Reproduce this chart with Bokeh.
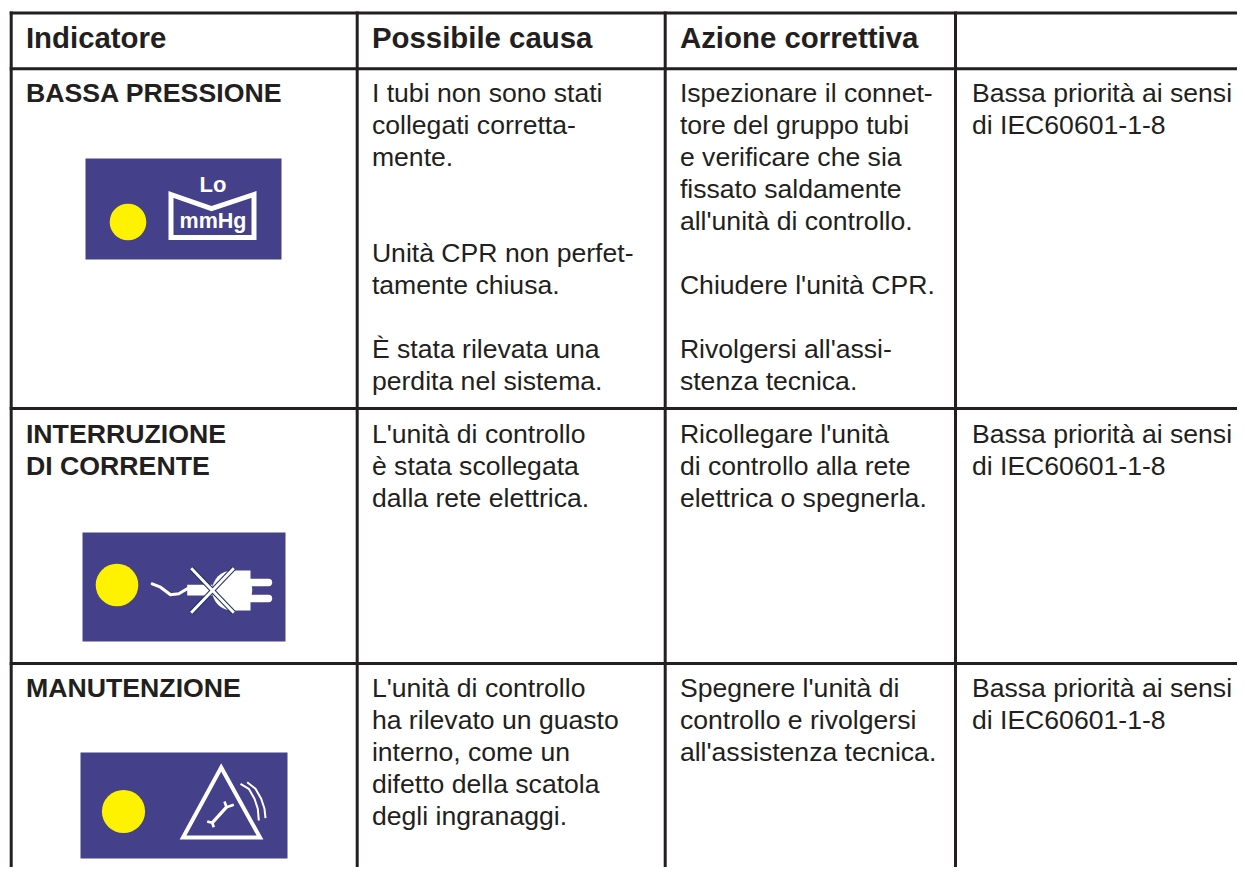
from bokeh.plotting import figure
from bokeh.models import Range1d
from bokeh.core.properties import value
from bokeh.embed import file_html
from bokeh.resources import INLINE

# ---- table content ----
headers = ["Indicatore", "Possibile causa", "Azione correttiva"]
col0_lines = ["BASSA PRESSIONE", "INTERRUZIONE", "DI CORRENTE", "MANUTENZIONE"]
col1_lines = ["I tubi non sono stati", "collegati corretta-", "mente.",
              "Unità CPR non perfet-", "tamente chiusa.",
              "È stata rilevata una", "perdita nel sistema.",
              "L'unità di controllo", "è stata scollegata", "dalla rete elettrica.",
              "L'unità di controllo", "ha rilevato un guasto", "interno, come un",
              "difetto della scatola", "degli ingranaggi."]
col2_lines = ["Ispezionare il connet-", "tore del gruppo tubi", "e verificare che sia",
              "fissato saldamente", "all'unità di controllo.",
              "Chiudere l'unità CPR.",
              "Rivolgersi all'assi-", "stenza tecnica.",
              "Ricollegare l'unità", "di controllo alla rete", "elettrica o spegnerla.",
              "Spegnere l'unità di", "controllo e rivolgersi", "all'assistenza tecnica."]
col3_lines = ["Bassa priorità ai sensi", "di IEC60601-1-8"] * 3

# ---- layout ----
W, H = 1237, 867
INK, BLUE, YELLOW, WHITE = "#231f20", "#44418a", "#fff200", "white"
FONT = value("Liberation Sans")
col_x = [25.4, 371.4, 679.4, 971.4]
col0_y = [92, 433, 465, 687]
col1_y = [92, 124, 156, 252, 284, 348, 380, 433, 465, 497, 687, 719, 751, 783, 815]
col2_y = [92, 124, 156, 188, 220, 284, 348, 380, 433, 465, 497, 687, 719, 751]
col3_y = [92, 124, 433, 465, 687, 719]
v_rules = [10.7, 356.7, 664.7, 955]
h_rules = [12.5, 68.3, 408, 663]

p = figure(width=W, height=H, x_range=Range1d(0, W), y_range=Range1d(H, 0),
           output_backend="svg", toolbar_location=None, min_border=0,
           background_fill_color="white", border_fill_color="white", outline_line_color=None)
p.axis.visible = False
p.grid.visible = False

for vx in v_rules:
    p.line([vx, vx], [11, H], line_color=INK, line_width=3)
for hy in h_rules:
    p.line([9.2, W], [hy, hy], line_color=INK, line_width=3)

def txt(x, y, t, size, style="normal"):
    p.text(x=x, y=y, text=t, text_font=FONT, text_font_size=f"{size}px",
           text_font_style=style, text_color=INK, text_baseline="alphabetic")

txt(col_x[:3], [37] * 3, headers, 29.4, "bold")
txt([col_x[0]] * len(col0_lines), col0_y, col0_lines, 26.7, "bold")
txt([col_x[1]] * len(col1_lines), col1_y, col1_lines, 26.6)
txt([col_x[2]] * len(col2_lines), col2_y, col2_lines, 26.6)
txt([col_x[3]] * len(col3_lines), col3_y, col3_lines, 26.6)

# icon panels and lamps
p.quad(left=[85, 82, 80], right=[281, 285, 287], top=[158, 532, 752], bottom=[259, 641, 858],
       fill_color=BLUE, line_color=None)
p.circle(x=[127.5, 116.5, 123], y=[221.5, 584.5, 811], radius=[18.3, 21.3, 21.6],
         fill_color=YELLOW, line_color=None)

# pressure icon
p.patch([170.5, 211, 253.5, 253.5, 170.5], [194, 208, 194, 237, 237],
        fill_color=None, line_color=WHITE, line_width=5, line_join="miter")
p.text(x=[212.5], y=[184.4], text=["Lo"], text_font=FONT, text_font_style="bold",
       text_font_size="22px", text_color=WHITE, text_align="center", text_baseline="alphabetic")
p.text(x=[212.5], y=[220], text=["mmHg"], text_font=FONT, text_font_style="bold",
       text_font_size="21.5px", text_color=WHITE, text_align="center", text_baseline="alphabetic")

# plug icon
p.line([151.7, 160, 170, 178.3, 186.7], [583.3, 586.7, 594.3, 593.3, 588.3],
       line_color=WHITE, line_width=3, line_join="round", line_cap="round")
p.quad(left=[186.7, 230], right=[212, 250], top=[584.3, 570], bottom=[595, 610],
       fill_color=WHITE, line_color=None)
p.circle(x=[231.7], y=[590], radius=[20], fill_color=WHITE, line_color=None)
p.multi_line([[250, 268], [250, 268]], [[582, 582], [598, 598]], line_color=WHITE, line_width=7.4, line_cap="round")
p.multi_line([[190.7, 233.3], [233.3, 190.7]], [[567.7, 612.3], [567.7, 612.3]], line_color="#1f2f5a", line_width=5)
p.multi_line([[190.7, 233.3], [233.3, 190.7]], [[567.7, 612.3], [567.7, 612.3]], line_color=WHITE, line_width=3)

# service icon
p.patch([220.7, 182.5, 259.5], [767, 837, 837], fill_color=None, line_color=WHITE, line_width=4, line_join="miter")
p.line([211.7, 226], [822.3, 806.7], line_color=WHITE, line_width=3.2)
p.multi_line([[206.7, 211.7, 213.3], [224, 226, 233.3]], [[821, 822.3, 826.7], [801, 806.7, 804.3]],
             line_color=WHITE, line_width=2.6)
p.multi_line([[240, 248.3, 254, 257.3, 258.3], [246.7, 255, 260.7, 264, 265]],
             [[783.3, 788.3, 798.3, 808.3, 820], [781.7, 788.3, 798.3, 808.3, 817.7]],
             line_color=WHITE, line_width=2, line_join="round")

open("out.html", "w").write(file_html(p, INLINE))
